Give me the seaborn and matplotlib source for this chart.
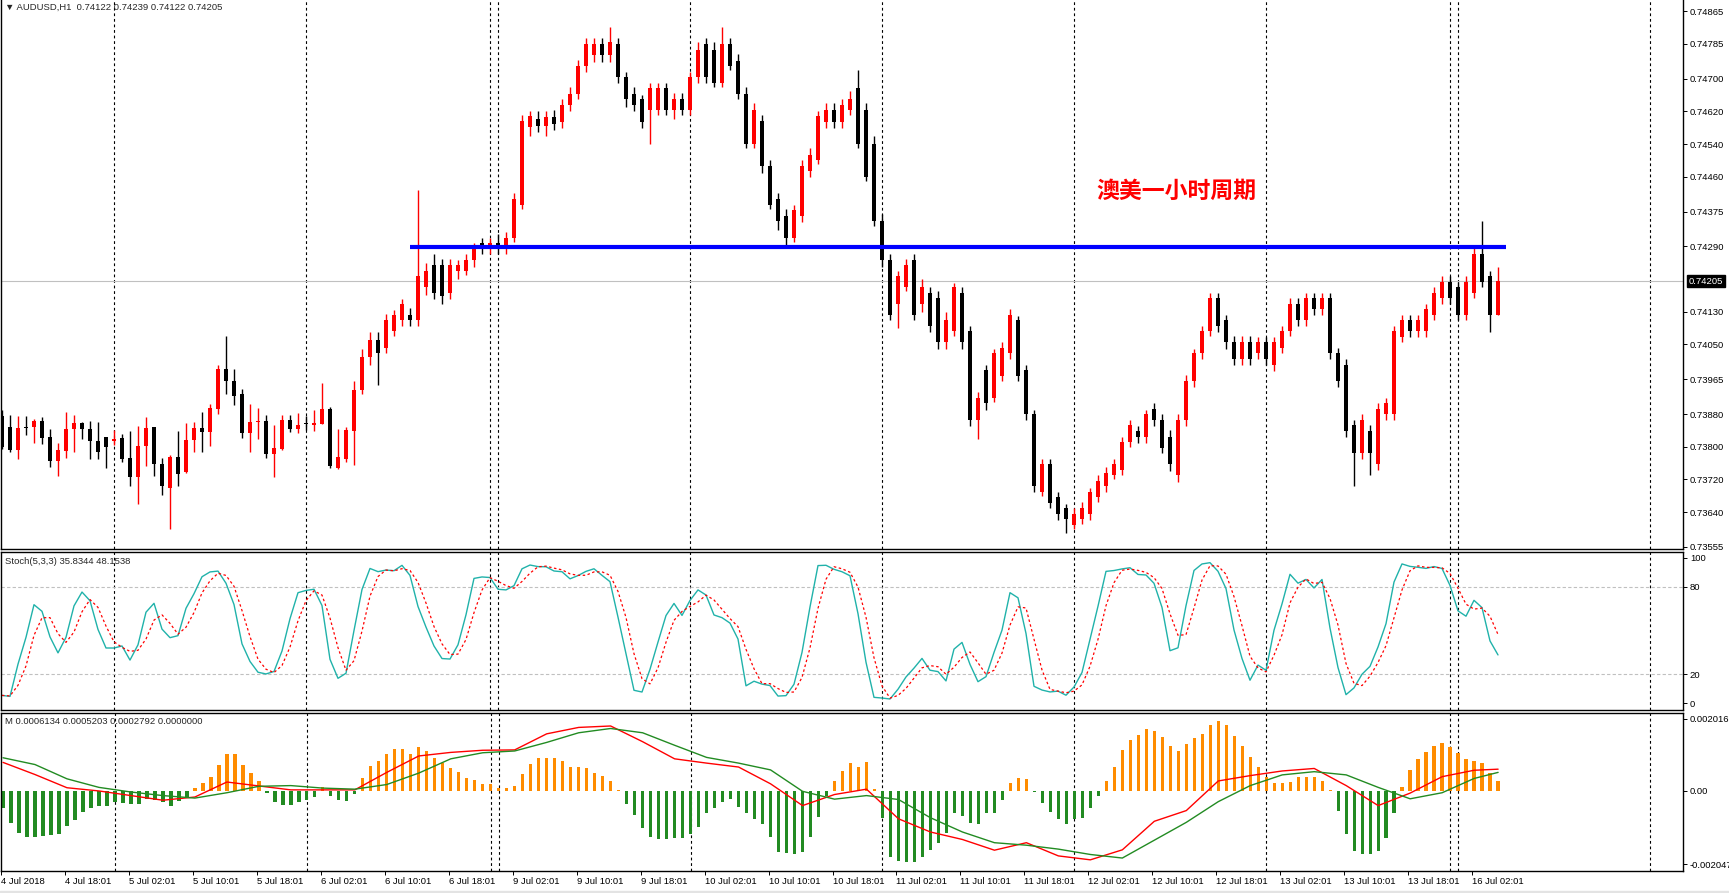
import numpy as np
import pandas as pd
import seaborn as sns
import matplotlib.pyplot as plt
import matplotlib.transforms as mtransforms
from matplotlib.patches import Rectangle

# AUDUSD H1 candles, bar 0 = 4 Jul 10:00 ... bar 187 = 16 Jul 05:00
opens = [
    .73875, .73848, .73792, .73847, .73848, .73863, .73824, .73766,
    .73790, .73843, .73858, .73844, .73815, .73824, .73814, .73822,
    .73773, .73727, .73802, .73848, .73757, .73700, .73775, .73738,
    .73816, .73846, .73837, .73892, .73990, .73960, .73929, .73833,
    .73860, .73863, .73783, .73794, .73865, .73844, .73855, .73853,
    .73855, .73892, .73748, .73770, .73839, .73939, .74020, .74060,
    .74041, .74082, .74109, .74122, .74109, .74190, .74244, .74244,
    .74176, .74230, .74230, .74257, .74298, .74284, .74298, .74284,
    .74311, .74392, .74581, .74600, .74585, .74605, .74595, .74635,
    .74662, .74730, .74757, .74784, .74757, .74784, .74703, .74662,
    .74649, .74622, .74622, .74676, .74622, .74649, .74622, .74703,
    .74784, .74770, .74689, .74784, .74743, .74662, .74541, .74595,
    .74487, .74406, .74365, .74311, .74365, .74473, .74500, .74595,
    .74622, .74595, .74622, .74676, .74622, .74541, .74352, .74257,
    .74149, .74190, .74257, .74149, .74176, .74163, .74055, .74082,
    .74176, .74082, .73866, .73987, .73920, .73974, .74028, .74109,
    .73987, .73879, .73690, .73758, .73677, .73650, .73609, .73623,
    .73636, .73677, .73704, .73731, .73744, .73812, .73839, .73825,
    .73893, .73866, .73825, .73731, .73866, .73960, .74028, .74082,
    .74163, .74109, .74055, .74014, .74055, .74028, .74055, .74001,
    .74041, .74082, .74149, .74109, .74163, .74136, .74163, .74028,
    .74001, .73852, .73785, .73839, .73758, .73879, .73879, .74068,
    .74109, .74082, .74082, .74122, .74163, .74203, .74190, .74122,
    .74176, .74271, .74217, .74122,
]
highs = [
    .73890, .73878, .73874, .73874, .73868, .73872, .73843, .73809,
    .73885, .73877, .73861, .73863, .73860, .73824, .73841, .73831,
    .73838, .73851, .73873, .73848, .73772, .73780, .73838, .73858,
    .73860, .73885, .73905, .74000, .74071, .73990, .73940, .73905,
    .73895, .73877, .73853, .73877, .73877, .73882, .73875, .73890,
    .73956, .73897, .73843, .73848, .73960, .74040, .74080, .74080,
    .74125, .74135, .74160, .74140, .74428, .74250, .74271, .74260,
    .74260, .74257, .74271, .74298, .74311, .74311, .74320, .74325,
    .74420, .74610, .74620, .74620, .74620, .74622, .74650, .74680,
    .74745, .74800, .74800, .74800, .74825, .74800, .74715, .74680,
    .74660, .74690, .74690, .74690, .74665, .74665, .74715, .74790,
    .74800, .74790, .74825, .74800, .74760, .74680, .74640, .74610,
    .74500, .74420, .74380, .74390, .74500, .74530, .74620, .74640,
    .74640, .74650, .74670, .74720, .74640, .74560, .74370, .74270,
    .74230, .74260, .74270, .74210, .74190, .74180, .74130, .74200,
    .74190, .74095, .73935, .74000, .74040, .74055, .74136, .74120,
    .74000, .73890, .73770, .73770, .73690, .73660, .73650, .73665,
    .73700, .73730, .73750, .73770, .73825, .73865, .73850, .73890,
    .73906, .73880, .73840, .73880, .73975, .74040, .74095, .74176,
    .74176, .74122, .74070, .74070, .74070, .74068, .74068, .74068,
    .74095, .74163, .74163, .74176, .74176, .74176, .74176, .74041,
    .74014, .73866, .73879, .73852, .73906, .73920, .74095, .74122,
    .74122, .74122, .74149, .74190, .74217, .74217, .74203, .74217,
    .74290, .74352, .74230, .74239,
]
lows = [
    .73795, .73788, .73770, .73829, .73810, .73807, .73751, .73729,
    .73773, .73788, .73820, .73771, .73771, .73749, .73804, .73763,
    .73703, .73661, .73754, .73729, .73682, .73600, .73703, .73736,
    .73786, .73788, .73803, .73880, .73930, .73902, .73822, .73788,
    .73820, .73773, .73727, .73792, .73837, .73834, .73841, .73839,
    .73855, .73748, .73746, .73763, .73755, .73930, .74000, .73951,
    .74030, .74070, .74095, .74095, .74095, .74170, .74160, .74150,
    .74160, .74210, .74220, .74240, .74271, .74270, .74270, .74270,
    .74300, .74380, .74560, .74570, .74560, .74575, .74580, .74620,
    .74650, .74715, .74740, .74740, .74740, .74690, .74630, .74620,
    .74580, .74541, .74610, .74610, .74600, .74610, .74610, .74690,
    .74690, .74680, .74680, .74720, .74650, .74530, .74530, .74470,
    .74380, .74330, .74290, .74300, .74350, .74460, .74490, .74580,
    .74580, .74580, .74610, .74530, .74450, .74340, .74240, .74110,
    .74090, .74180, .74110, .74130, .74080, .74040, .74040, .74070,
    .74040, .73850, .73820, .73890, .73910, .73960, .74015, .73960,
    .73866, .73690, .73680, .73650, .73620, .73590, .73600, .73610,
    .73620, .73665, .73690, .73720, .73730, .73800, .73810, .73810,
    .73850, .73785, .73740, .73715, .73850, .73945, .74015, .74070,
    .74080, .74040, .74000, .74000, .74000, .74015, .74000, .73985,
    .74028, .74070, .74095, .74095, .74122, .74122, .74014, .73945,
    .73825, .73704, .73770, .73731, .73744, .73866, .73866, .74055,
    .74068, .74068, .74068, .74109, .74149, .74149, .74109, .74109,
    .74163, .74190, .74080, .74122,
]
closes = [
    .73800, .73792, .73846, .73845, .73863, .73822, .73766, .73792,
    .73843, .73858, .73844, .73815, .73786, .73799, .73819, .73769,
    .73727, .73802, .73846, .73757, .73704, .73775, .73734, .73816,
    .73846, .73837, .73895, .73990, .73960, .73925, .73833, .73860,
    .73863, .73783, .73797, .73865, .73844, .73853, .73855, .73858,
    .73892, .73753, .73775, .73841, .73939, .74020, .74060, .74030,
    .74109, .74122, .74149, .74109, .74217, .74230, .74176, .74168,
    .74244, .74244, .74257, .74284, .74284, .74298, .74284, .74311,
    .74406, .74595, .74608, .74585, .74605, .74590, .74635, .74662,
    .74730, .74784, .74784, .74757, .74790, .74703, .74649, .74635,
    .74595, .74676, .74676, .74622, .74649, .74622, .74703, .74770,
    .74703, .74689, .74784, .74730, .74662, .74541, .74622, .74487,
    .74392, .74352, .74311, .74379, .74487, .74514, .74608, .74622,
    .74595, .74635, .74649, .74541, .74460, .74352, .74257, .74122,
    .74217, .74244, .74122, .74190, .74095, .74055, .74109, .74190,
    .74055, .73866, .73920, .73906, .74028, .74041, .74122, .73974,
    .73879, .73704, .73758, .73663, .73636, .73623, .73636, .73650,
    .73690, .73717, .73736, .73758, .73812, .73852, .73825, .73879,
    .73866, .73798, .73758, .73866, .73960, .74028, .74082, .74163,
    .74095, .74055, .74014, .74055, .74014, .74055, .74014, .74055,
    .74082, .74149, .74109, .74163, .74136, .74163, .74028, .73960,
    .73839, .73785, .73866, .73785, .73893, .73906, .74082, .74109,
    .74082, .74109, .74136, .74176, .74203, .74163, .74122, .74203,
    .74271, .74203, .74122, .74205,
]

# "M" indicator histogram, in units of 0.0001
hist = [
    -4.7, -9.0, -11.8, -12.8, -12.8, -12.6, -12.3, -12.1,
    -9.7, -8.1, -5.8, -4.9, -4.1, -4.1, -3.0, -3.5,
    -3.7, -3.7, -2.3, -2.5, -3.2, -4.1, -2.7, -1.6,
    0.9, 2.3, 4.0, 7.3, 10.4, 10.4, 7.3, 5.1,
    2.8, -0.7, -3.2, -3.9, -3.9, -3.0, -2.5, -1.6,
    1.2, -1.3, -2.5, -2.7, -0.9, 3.5, 7.0, 8.5,
    10.4, 11.8, 11.8, 10.4, 12.2, 11.2, 9.1, 7.7,
    6.3, 5.2, 3.5, 3.1, 2.0, 2.0, 0.9, 0.7,
    1.5, 4.8, 7.6, 9.2, 9.2, 9.2, 8.4, 6.8,
    6.6, 6.3, 4.9, 4.3, 2.9, 0.3, -3.7, -6.7,
    -10.3, -12.8, -13.5, -13.5, -13.2, -13.1, -12.0, -10.0,
    -6.3, -4.9, -3.0, -2.2, -4.4, -6.3, -7.9, -9.2,
    -13.0, -17.1, -17.5, -17.6, -17.2, -12.8, -7.2, -1.4,
    2.8, 5.6, 7.7, 6.8, 8.0, 0.6, -7.5, -18.5,
    -19.5, -20.0, -19.8, -18.5, -16.5, -14.5, -11.8, -6.3,
    -6.9, -9.0, -9.3, -6.1, -6.1, -2.5, 2.1, 3.7,
    3.3, -0.4, -3.3, -5.8, -7.9, -9.3, -7.9, -7.5,
    -4.9, -1.3, 2.8, 6.8, 11.5, 14.3, 15.7, 17.4,
    16.9, 15.2, 12.7, 11.3, 13.2, 14.7, 16.0, 18.5,
    19.6, 18.5, 15.4, 12.6, 9.4, 6.8, 3.8, 2.3,
    2.1, 2.6, 3.8, 3.8, 3.8, 2.9, 0.3, -5.5,
    -12.1, -16.8, -17.8, -17.8, -16.9, -13.3, -6.3, 1.2,
    5.9, 8.9, 11.0, 12.6, 13.3, 12.2, 10.7, 9.0,
    8.4, 7.9, 5.1, 2.8,
]

# "M" indicator lines, read every 4th bar, units of 0.0001
line_bars = list(range(0, 185, 4)) + [187]
m_red = [8.0, 4.6, 0.9, 0.0, -1.3, -2.6, -1.7, 2.5, 1.4, 0.3, 0.3, 0.3,
         5.2, 9.8, 10.8, 11.4, 11.5, 16.0, 17.8, 18.2, 13.8, 9.0, 7.8, 6.7,
         2.0, -4.1, -1.0, 0.5, -7.8, -11.5, -13.6, -16.6, -14.5, -18.2, -19.3, -16.5,
         -8.5, -5.5, 2.8, 4.3, 5.6, 6.3, 1.5, -4.1, -0.6, 4.0, 5.8, 6.1]
m_green = [9.3, 7.4, 3.4, 1.0, -0.3, -1.3, -2.0, -0.5, 1.3, 1.5, 0.8, 0.5,
           1.8, 5.0, 9.0, 10.7, 11.2, 13.6, 16.3, 17.5, 16.3, 12.8, 9.4, 7.8,
           5.9, -0.1, -2.3, -1.3, -2.4, -7.5, -11.5, -14.5, -15.2, -16.3, -17.8, -18.8,
           -13.8, -8.8, -3.0, 1.5, 4.5, 5.4, 4.5, 1.0, -2.2, -0.5, 3.5, 5.2]

date_labels = ["4 Jul 2018", "4 Jul 18:01", "5 Jul 02:01", "5 Jul 10:01", "5 Jul 18:01",
               "6 Jul 02:01", "6 Jul 10:01", "6 Jul 18:01", "9 Jul 02:01", "9 Jul 10:01",
               "9 Jul 18:01", "10 Jul 02:01", "10 Jul 10:01", "10 Jul 18:01", "11 Jul 02:01",
               "11 Jul 10:01", "11 Jul 18:01", "12 Jul 02:01", "12 Jul 10:01", "12 Jul 18:01",
               "13 Jul 02:01", "13 Jul 10:01", "13 Jul 18:01", "16 Jul 02:01"]
price_ticks = [0.74865, 0.74785, 0.74700, 0.74620, 0.74540, 0.74460, 0.74375, 0.74290,
               0.74130, 0.74050, 0.73965, 0.73880, 0.73800, 0.73720, 0.73640, 0.73555]
last_price = 0.74205
level = 0.74288                  # blue horizontal line
level_from, level_to = 51, 188
grid_bars = [14, 38, 61, 62, 86, 110, 134, 158, 181, 182, 206]

sns.set_theme(style="white")
plt.rcParams['font.family'] = ['Liberation Sans', 'DejaVu Sans']
FS = 6.8

df = pd.DataFrame({"open": opens, "high": highs, "low": lows, "close": closes})
df["bar"] = np.arange(len(df))
df["color"] = np.where(df["close"] > df["open"], "#FF0000", "#000000")

# Stochastic (5,3,3)
ll = df["low"].rolling(5, min_periods=1).min()
hh = df["high"].rolling(5, min_periods=1).max()
df["k"] = 100 * (df["close"] - ll).rolling(3, min_periods=1).sum() / (hh - ll).rolling(3, min_periods=1).sum()
df["d"] = df["k"].rolling(3, min_periods=1).mean()

W, H = 1729, 893
fig = plt.figure(figsize=(W / 100, H / 100), dpi=100)


def panel(top, bottom):
    ax = fig.add_axes([1 / W, 1 - bottom / H, 1682 / W, (bottom - top) / H])
    ax.set_xlim(-0.125, 210.125)
    for s in ax.spines.values():
        s.set_color("black")
        s.set_linewidth(1.0)
    ax.yaxis.tick_right()
    ax.tick_params(axis="y", which="both", right=True, length=3, width=0.7, pad=2,
                   labelsize=FS, colors="black")
    ax.set_xticks([])
    ax.grid(False)
    for b in grid_bars:
        ax.axvline(b, color="black", lw=0.8, ls=(0, (2.5, 2.5)), zorder=0)
    return ax


ax1 = panel(0, 549)
ax2 = panel(552, 710)
ax3 = panel(713, 871)
ax1.spines["top"].set_visible(False)

# candles
ax1.vlines(df["bar"], df["low"], df["high"], colors=df["color"], lw=1.0, zorder=2)
body_lo = np.minimum(df["open"], df["close"])
body_h = np.maximum((df["close"] - df["open"]).abs(), 0.000025)
ax1.bar(df["bar"], body_h, bottom=body_lo, width=0.62, color=df["color"], lw=0, zorder=3)
ax1.axhline(last_price, color="#C0C0C0", lw=0.8, zorder=1)
ax1.hlines(level, level_from, level_to, colors="#0000FF", lw=3.0, zorder=4)
ax1.text(146.8, 0.74424, "澳美一小时周期", color="#FF0000", fontsize=16.5, fontweight="bold",
         ha="center", va="center", family=["Noto Sans CJK SC", "DejaVu Sans"])
ax1.set_ylim(0.73550, 0.74892)
ax1.set_yticks(price_ticks)
ax1.set_yticklabels([f"{v:.5f}" for v in price_ticks])
trans = mtransforms.blended_transform_factory(ax1.transAxes, ax1.transData)
ax1.text(1.0035, last_price, f"{last_price:.5f}", transform=trans, color="white", fontsize=FS,
         va="center", ha="left", bbox=dict(boxstyle="square,pad=0.15", fc="black", ec="black"),
         zorder=6, clip_on=False)

# stochastic
ax2.axhline(80, color="#C0C0C0", lw=0.8, ls=(0, (3, 2)))
ax2.axhline(20, color="#C0C0C0", lw=0.8, ls=(0, (3, 2)))
sns.lineplot(x=df["bar"], y=df["k"], ax=ax2, color="#20B2AA", lw=1.0)
sns.lineplot(x=df["bar"], y=df["d"], ax=ax2, color="#FF0000", lw=0.9, linestyle=(0, (2, 2)))
ax2.set_ylim(-4.8, 104.1)
ax2.set_yticks([0, 20, 80, 100])
ax2.set_yticklabels(["0", "20", "80", "100"])
ax2.set_xlabel("")
ax2.set_ylabel("")
ax2.set_xticks([])

# M indicator
h = np.array(hist) * 1e-4
ax3.bar(df["bar"], h, width=0.42, color=np.where(h >= 0, "#FF8C00", "#228B22"), lw=0, zorder=2)
sns.lineplot(x=line_bars, y=np.array(m_red) * 1e-4, ax=ax3, color="#FF0000", lw=1.0, zorder=3)
sns.lineplot(x=line_bars, y=np.array(m_green) * 1e-4, ax=ax3, color="#228B22", lw=1.0, zorder=3)
ax3.set_ylim(-0.002243, 0.002184)
ax3.set_yticks([0.002016, 0.0, -0.002047])
ax3.set_yticklabels(["0.002016", "0.00", "-0.002047"])
ax3.set_xlabel("")
ax3.set_ylabel("")
ax3.set_xticks([8 * i - 0.25 for i in range(len(date_labels))])
ax3.set_xticklabels(date_labels, ha="left")
ax3.tick_params(axis="x", bottom=True, length=3, width=0.7, pad=1.5, labelsize=FS, colors="black")

# panel captions
fig.text(5 / W, 1 - 7 / H, "▼ AUDUSD,H1  0.74122 0.74239 0.74122 0.74205", fontsize=FS, va="center")
fig.text(5 / W, 1 - 561 / H, "Stoch(5,3,3) 35.8344 48.1538", fontsize=FS, va="center")
fig.text(5 / W, 1 - 722 / H, "M 0.0006134 0.0005203 0.0002792 0.0000000", fontsize=FS, va="center")
fig.patches.append(Rectangle((0, 0), 1, 2 / H, transform=fig.transFigure, color="#E3E3E3"))

fig.savefig("out.png", dpi=100)
